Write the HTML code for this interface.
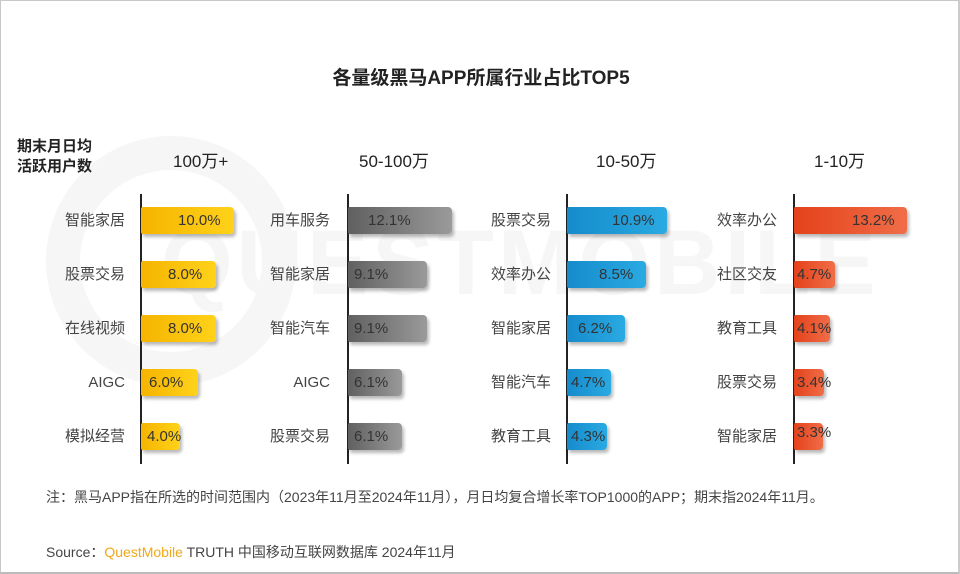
<!DOCTYPE html>
<html><head><meta charset="utf-8"><style>
*{margin:0;padding:0;box-sizing:border-box}
body{width:960px;height:574px;overflow:hidden;background:#fff;font-family:"Liberation Sans","Noto Sans CJK SC",sans-serif;color:#333}
#f{position:absolute;left:0;top:0;width:960px;height:574px;overflow:hidden;border:1px solid #c8c8c8;border-bottom:2px solid #bbb;border-right:2px solid #ccc}
.a{position:absolute;white-space:nowrap}
.ax{position:absolute;width:1.5px;background:#222;top:193px;height:270px}
.bar{position:absolute;height:27px;border-radius:2px 4px 4px 2px;box-shadow:2px 3px 3px rgba(0,0,0,0.28)}
.lab{position:absolute;font-size:15px;color:#444;text-align:right;width:120px;line-height:27px}
.val{position:absolute;font-size:15px;color:#333;line-height:27px}
.hd{position:absolute;font-size:17px;color:#222;top:146px}
.y{background:linear-gradient(90deg,#f5b400,#ffd21a)}
.g{background:linear-gradient(90deg,#606060,#9a9a9a)}
.b{background:linear-gradient(90deg,#168bcc,#2aaae2)}
.r{background:linear-gradient(90deg,#e4421a,#f06d48)}
.wm{position:absolute;left:160px;top:210px;font-size:92px;font-weight:bold;color:#f6f6f6;letter-spacing:4px;white-space:nowrap}
.ring{position:absolute;left:45px;top:135px;width:250px;height:250px;border-radius:50%;border:34px solid #f6f6f6}
</style></head><body><div id="f">
<div class="ring"></div>
<div class="wm">QUESTMOBILE</div>
<div class="a" style="left:0;width:960px;text-align:center;top:62px;font-size:19px;font-weight:bold;color:#222">各量级黑马APP所属行业占比TOP5</div>
<div class="a" style="left:16px;top:136px;font-size:15px;font-weight:bold;line-height:20px;color:#222">期末月日均<br>活跃用户数</div>
<div class="hd" style="left:172px">100万+</div>
<div class="hd" style="left:358px">50-100万</div>
<div class="hd" style="left:595px">10-50万</div>
<div class="hd" style="left:813px">1-10万</div>
<div class="ax" style="left:139px"></div>
<div class="ax" style="left:346px"></div>
<div class="ax" style="left:565px"></div>
<div class="ax" style="left:792px"></div>

<div class="lab" style="left:4px;top:206px">智能家居</div><div class="bar y" style="left:140px;top:206px;width:93px"></div><div class="val" style="left:177px;top:206px">10.0%</div>
<div class="lab" style="left:4px;top:260px">股票交易</div><div class="bar y" style="left:140px;top:260px;width:75px"></div><div class="val" style="left:167px;top:260px">8.0%</div>
<div class="lab" style="left:4px;top:314px">在线视频</div><div class="bar y" style="left:140px;top:314px;width:75px"></div><div class="val" style="left:167px;top:314px">8.0%</div>
<div class="lab" style="left:4px;top:368px">AIGC</div><div class="bar y" style="left:140px;top:368px;width:57px"></div><div class="val" style="left:148px;top:368px">6.0%</div>
<div class="lab" style="left:4px;top:422px">模拟经营</div><div class="bar y" style="left:140px;top:422px;width:39px"></div><div class="val" style="left:146px;top:422px">4.0%</div>

<div class="lab" style="left:209px;top:206px">用车服务</div><div class="bar g" style="left:347px;top:206px;width:104px"></div><div class="val" style="left:367px;top:206px">12.1%</div>
<div class="lab" style="left:209px;top:260px">智能家居</div><div class="bar g" style="left:347px;top:260px;width:79px"></div><div class="val" style="left:353px;top:260px">9.1%</div>
<div class="lab" style="left:209px;top:314px">智能汽车</div><div class="bar g" style="left:347px;top:314px;width:79px"></div><div class="val" style="left:353px;top:314px">9.1%</div>
<div class="lab" style="left:209px;top:368px">AIGC</div><div class="bar g" style="left:347px;top:368px;width:54px"></div><div class="val" style="left:353px;top:368px">6.1%</div>
<div class="lab" style="left:209px;top:422px">股票交易</div><div class="bar g" style="left:347px;top:422px;width:54px"></div><div class="val" style="left:353px;top:422px">6.1%</div>

<div class="lab" style="left:430px;top:206px">股票交易</div><div class="bar b" style="left:566px;top:206px;width:100px"></div><div class="val" style="left:611px;top:206px">10.9%</div>
<div class="lab" style="left:430px;top:260px">效率办公</div><div class="bar b" style="left:566px;top:260px;width:79px"></div><div class="val" style="left:598px;top:260px">8.5%</div>
<div class="lab" style="left:430px;top:314px">智能家居</div><div class="bar b" style="left:566px;top:314px;width:58px"></div><div class="val" style="left:577px;top:314px">6.2%</div>
<div class="lab" style="left:430px;top:368px">智能汽车</div><div class="bar b" style="left:566px;top:368px;width:44px"></div><div class="val" style="left:570px;top:368px">4.7%</div>
<div class="lab" style="left:430px;top:422px">教育工具</div><div class="bar b" style="left:566px;top:422px;width:40px"></div><div class="val" style="left:570px;top:422px">4.3%</div>

<div class="lab" style="left:656px;top:206px">效率办公</div><div class="bar r" style="left:793px;top:206px;width:113px"></div><div class="val" style="left:851px;top:206px">13.2%</div>
<div class="lab" style="left:656px;top:260px">社区交友</div><div class="bar r" style="left:793px;top:260px;width:41px"></div><div class="val" style="left:796px;top:260px">4.7%</div>
<div class="lab" style="left:656px;top:314px">教育工具</div><div class="bar r" style="left:793px;top:314px;width:36px"></div><div class="val" style="left:796px;top:314px">4.1%</div>
<div class="lab" style="left:656px;top:368px">股票交易</div><div class="bar r" style="left:793px;top:368px;width:30px"></div><div class="val" style="left:796px;top:368px">3.4%</div>
<div class="lab" style="left:656px;top:422px">智能家居</div><div class="bar r" style="left:793px;top:422px;width:29px"></div><div class="val" style="left:796px;top:418px">3.3%</div>

<div class="a" style="left:45px;top:486px;font-size:14px;color:#444">注：黑马APP指在所选的时间范围内（2023年11月至2024年11月），月日均复合增长率TOP1000的APP；期末指2024年11月。</div>
<div class="a" style="left:45px;top:541px;font-size:14px;color:#444">Source：<span style="color:#f0a818">QuestMobile</span> TRUTH 中国移动互联网数据库 2024年11月</div>
</div></body></html>
